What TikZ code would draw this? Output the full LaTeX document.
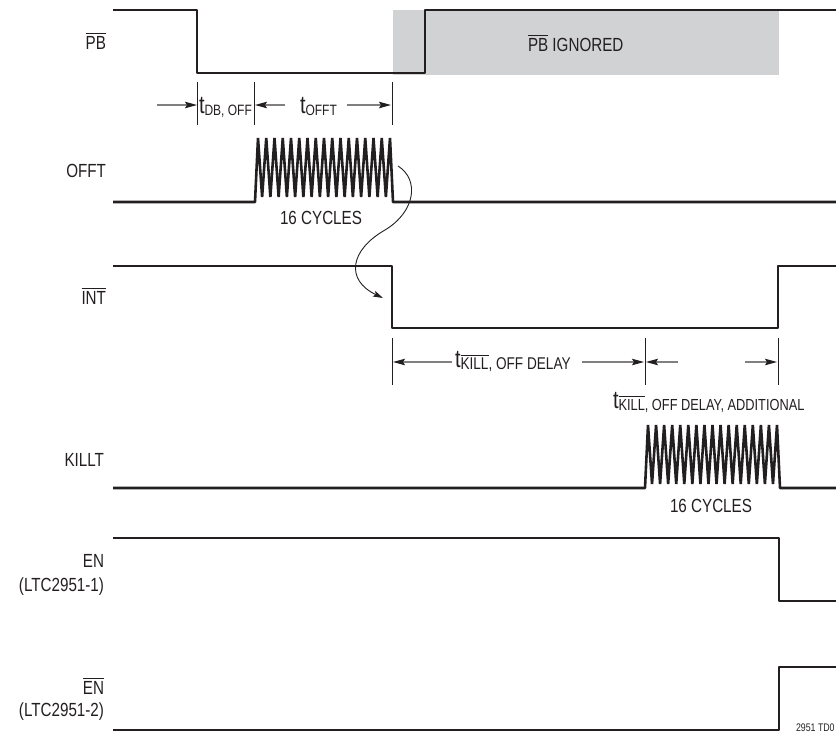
\documentclass[tikz,border=0pt]{standalone}
\usepackage{fontspec}
\setmainfont{Liberation Sans}[FakeStretch=0.8]
\usetikzlibrary{arrows.meta}
\definecolor{ink}{HTML}{231F20}
\definecolor{dimgray}{HTML}{808080}
\definecolor{pbgray}{HTML}{D1D2D4}
\newcommand\ovl[1]{\vbox{\hrule height 0.9pt\kern 1.6pt\hbox{#1}}}
\newcommand\tsub[2][15]{{\fontsize{25}{25}\selectfont t}\raisebox{-2pt}{\fontsize{#1}{#1}\selectfont #2}}
\begin{document}
\begin{tikzpicture}[x=1pt,y=-1pt,
  sig/.style={ink, line width=2.6pt, line join=bevel},
  dimarr/.style={dimgray, line width=1.2pt, -{Stealth[length=12pt,width=6.5pt,inset=2pt,ink]}},
  tickline/.style={ink, line width=0.9pt},
  curvearr/.style={ink, line width=0.9pt, -{Stealth[length=10pt,width=6pt,inset=2pt]}},
  lbl/.style={inner sep=0pt, outer sep=0pt, text=ink, font=\fontsize{19}{19}\selectfont},
  small/.style={inner sep=0pt, outer sep=0pt, text=ink, font=\fontsize{11}{11}\selectfont},
]
\useasboundingbox (0,0) rectangle (836,734);

% PB ignored shading
\fill[pbgray] (393,10) rectangle (779,75);
\node[lbl, anchor=base west] (ignored) at (528,51) {\ovl{PB} IGNORED};

% signal labels
\node[lbl, anchor=base east] (lpb) at (106,49) {\ovl{PB}};
\node[lbl, anchor=base east] (lofft) at (106,177) {OFFT};
\node[lbl, anchor=base east] (lint) at (106,304) {\ovl{INT}};
\node[lbl, anchor=base east] (lkillt) at (104,466) {KILLT};
\node[lbl, anchor=base east] (len) at (104,567) {EN};
\node[lbl, anchor=base east] (len1) at (104,591) {(LTC2951-1)};
\node[lbl, anchor=base east] (lenb) at (104,694) {\ovl{EN}};
\node[lbl, anchor=base east] (len2) at (104,716) {(LTC2951-2)};

% waveforms
\draw[sig] (113,10) -- (197,10) -- (197,73) -- (425,73) -- (425,10) -- (836,10);
\draw[sig] (113,202) -- (255,202) -- (258,138)
  \foreach \i in {1,...,16} { -- ({258+(\i-0.5)*8.25},197) -- ({258+\i*8.25},138) }
  -- (393,202) -- (836,202);
\draw[sig] (113,266) -- (392,266) -- (392,328) -- (778,328) -- (778,266) -- (836,266);
\draw[sig] (113,488) -- (645,488) -- (648,425)
  \foreach \i in {1,...,16} { -- ({648+(\i-0.5)*8.0625},484) -- ({648+\i*8.0625},425) }
  -- (780,488) -- (836,488);
\draw[sig] (113,538) -- (779,538) -- (779,601) -- (836,601);
\draw[sig] (113,730) -- (779,730) -- (779,667) -- (836,667);

\node[lbl, anchor=base] (cyc1) at (321,224) {16 CYCLES};
\node[lbl, anchor=base] (cyc2) at (711,512) {16 CYCLES};

% dimension row 1
\coordinate (a1t) at (197,82); \coordinate (a1b) at (197,125);
\coordinate (b1t) at (254,82); \coordinate (b1b) at (254,125);
\coordinate (c1t) at (392,82); \coordinate (c1b) at (392,125);
\draw[tickline] (a1t) -- (a1b);
\draw[tickline] (b1t) -- (b1b);
\draw[tickline] (c1t) -- (c1b);
\coordinate (a1s) at (157,105); \coordinate (a1e) at (197,105);
\coordinate (b1s) at (285,105); \coordinate (b1e) at (255,105);
\coordinate (c1s) at (347,105); \coordinate (c1e) at (391,105);
\draw[dimarr] (a1s) -- (a1e);
\draw[dimarr] (b1s) -- (b1e);
\draw[dimarr] (c1s) -- (c1e);
\node[lbl, anchor=base west] (tdb) at (199,113) {\tsub{DB, OFF}};
\node[lbl, anchor=base west] (toff) at (300,113) {\tsub{OFFT}};

% curved arrow
\coordinate (cs) at (398,166);
\coordinate (cm) at (385,230);
\coordinate (ce) at (383,298);
\draw[curvearr] (cs) .. controls (420,180) and (415,212) .. (cm)
  .. controls (350,250) and (345,280) .. (ce);

% dimension row 2
\coordinate (a2t) at (392,338); \coordinate (a2b) at (392,385);
\coordinate (b2t) at (645,338); \coordinate (b2b) at (645,385);
\coordinate (c2t) at (778,338); \coordinate (c2b) at (778,385);
\draw[tickline] (a2t) -- (a2b);
\draw[tickline] (b2t) -- (b2b);
\draw[tickline] (c2t) -- (c2b);
\coordinate (a2s) at (452,362); \coordinate (a2e) at (393,362);
\coordinate (b2s) at (582,362); \coordinate (b2e) at (644,362);
\coordinate (c2s) at (678,362); \coordinate (c2e) at (646,362);
\coordinate (d2s) at (745,362); \coordinate (d2e) at (777,362);
\draw[dimarr] (a2s) -- (a2e);
\draw[dimarr] (b2s) -- (b2e);
\draw[dimarr] (c2s) -- (c2e);
\draw[dimarr] (d2s) -- (d2e);
\node[lbl, anchor=base west] (tkill) at (455,367) {\tsub[17]{\ovl{KILL}, OFF DELAY}};
\node[lbl, anchor=base west] (tkilladd) at (613,408) {\tsub[16]{\ovl{KILL}, OFF DELAY, ADDITIONAL}};

\node[small, anchor=base west] (fig) at (796,731) {2951 TD0};
\end{tikzpicture}
\end{document}
